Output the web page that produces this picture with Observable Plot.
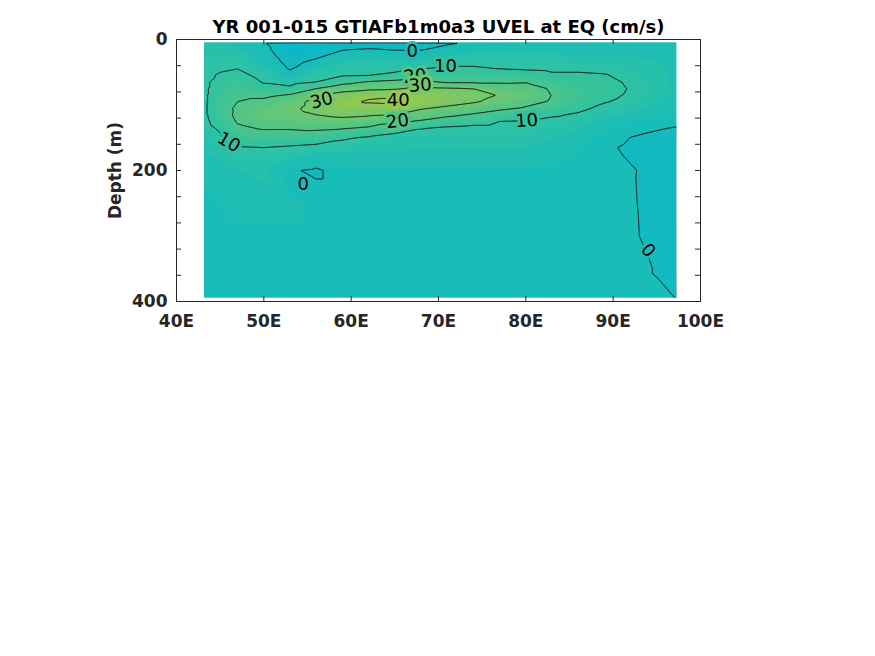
<!DOCTYPE html>
<html>
<head>
<meta charset="utf-8">
<script src="https://cdn.jsdelivr.net/npm/d3@7"></script>
<script src="https://cdn.jsdelivr.net/npm/@observablehq/plot@0.6"></script>
<style>
  html, body { margin: 0; padding: 0; background: #fff; }
  #chart svg { display: block; }
</style>
</head>
<body>
<div id="chart"></div>
<script>
// ---------- data ----------
const titleText = "YR 001-015 GTIAFb1m0a3 UVEL at EQ (cm/s)";
const yLabelText = "Depth (m)";

// grid longitudes (°E) and depths (m)
const lons = [43.2, 45, 47, 50, 53, 56, 59, 62, 65, 68, 71, 74, 77, 80, 83, 86, 89, 92, 95, 97.3];
const depths = [5, 15, 25, 35, 45, 55, 65, 75, 85, 95, 105, 115, 125, 135, 150, 165, 180, 200, 250, 300, 350, 395];

// zonal velocity (cm/s): one profile per longitude, values top -> bottom at the depths above
const uvel = [
  /* 43.2 */ [5, 6, 7, 8, 8.5, 9, 9, 9, 9, 9, 9, 9, 8.5, 8, 6, 5, 4, 3, 2, 1.5, 1, 1],
  /* 45   */ [5, 6, 7, 8.5, 9.5, 10.5, 12, 13, 14, 14.5, 15, 14, 13, 11, 9, 7, 5, 4, 2.5, 2, 1, 1],
  /* 47   */ [4, 5, 7, 9, 10, 12, 14, 16, 18, 20, 22, 22.5, 21, 18.5, 14, 9.5, 7, 5, 3, 2, 1, 1],
  /* 50   */ [0.3, 1.5, 2.5, 4, 6, 8, 9.5, 12, 18, 22, 25, 26, 24, 21, 15, 10, 8, 6, 3, 2, 1, 1],
  /* 53   */ [-4, -4, -3, -2, -0.5, 3, 7, 12, 21, 26, 28, 27, 24, 21, 15, 9, 6, 0.5, 3, 2, 1, 1],
  /* 56   */ [-5, -4, -1.5, 2, 5, 8, 10, 20, 29, 33, 33, 30, 26, 22, 14, 8, 3, -0.7, 2, 2, 1, 1],
  /* 59   */ [-4, -0.5, 3, 5, 7, 9.5, 17, 26, 34, 38, 36, 32, 27, 21, 11, 7, 4, 2, 2, 1.5, 1, 1],
  /* 62   */ [-5, 0.5, 4, 6, 8, 10, 21, 28, 38, 41, 35, 31, 25, 19, 9, 6, 4, 2, 2, 1.5, 1, 1],
  /* 65   */ [-5, -0.5, 3, 6, 8, 12, 23, 29, 38, 42, 35, 30, 22, 14, 7, 6, 4, 2, 2, 1.5, 1, 1],
  /* 68   */ [-3, -0.5, 3, 6, 10, 15, 22, 32, 38, 39, 31, 25, 19, 10.5, 7, 5, 4, 2, 2, 1.5, 1, 1],
  /* 71   */ [-1, 2, 5, 8, 11, 15, 19, 31, 35, 34, 28, 22, 15, 9, 7, 5, 4, 2, 2, 1.5, 1, 1],
  /* 74   */ [1, 3, 6, 8.5, 11, 14, 19, 30, 33, 31, 25, 19, 13, 8, 6, 5, 4, 2, 2, 1.5, 1, 1],
  /* 77   */ [2, 4, 6, 8, 10, 14, 19, 25, 29.5, 27, 22, 15, 10, 8, 6, 5, 4, 2, 2, 1.5, 1, 1],
  /* 80   */ [3, 4, 6, 8, 9.5, 13, 19.5, 24, 26, 23, 19, 13, 9.5, 8, 6, 5, 4, 2, 2, 1.5, 1, 1],
  /* 83   */ [3, 4, 6, 8, 9, 11, 15, 19, 19.8, 19, 15, 11, 8, 7, 5, 4, 3, 2, 2, 1.5, 1, 1],
  /* 86   */ [3, 4, 5, 7, 9, 11, 13, 15, 15, 14, 12, 9, 7, 5, 4, 3, 2, 2, 1.5, 1, 1, 1],
  /* 89   */ [3, 4, 5, 7, 8.5, 10.5, 12, 13, 12, 10.5, 8, 6, 4, 3, 1.5, 0.6, 1, 1, 1, 1, 1, 1],
  /* 92   */ [3, 4, 5, 6, 7, 8, 9, 9.5, 9, 8, 6, 4, 2.5, 1, -0.05, -0.6, -0.3, 0.3, 0.4, 0.5, 1, 1],
  /* 95   */ [2, 3, 4, 5, 5.5, 6, 6, 6, 5.5, 5, 4, 3, 1.5, 0.3, -0.8, -1.5, -1.5, -1, -1.2, -1, -0.2, 0.5],
  /* 97.3 */ [2, 3, 3.5, 4, 4.5, 4.5, 4.5, 4.5, 4, 3.5, 3, 2, 1, -0.2, -1.5, -2.5, -2.5, -2.5, -2.5, -2, -1.5, -0.05]
];

const lineLevels = [0, 10, 20, 30, 40];

// inline contour labels (position in lon / depth)
const contourLabels = [
  {lon: 67.0, depth: 18,  level: 0,  angle: 0},
  {lon: 70.8, depth: 41,  level: 10, angle: 0},
  {lon: 67.3, depth: 56,  level: 20, angle: -5},
  {lon: 67.9, depth: 70,  level: 30, angle: -5},
  {lon: 56.6, depth: 93,  level: 30, angle: -15},
  {lon: 65.4, depth: 93,  level: 40, angle: 0},
  {lon: 65.3, depth: 125, level: 20, angle: -7},
  {lon: 80.1, depth: 124, level: 10, angle: -4},
  {lon: 46.0, depth: 157, level: 10, angle: 30},
  {lon: 54.5, depth: 221, level: 0,  angle: 0},
  {lon: 94.0, depth: 322, level: 0,  angle: 50}
];

const xDomain = [40, 100];
const yDomain = [0, 400];
const xTicks = [40, 50, 60, 70, 80, 90, 100];
const yTicks = [0, 40, 80, 120, 160, 200, 240, 280, 320, 360, 400];
const yTickLabels = [0, 200, 400];

// ---------- layout / style ----------
const W = 875, H = 656;
const mL = 176, mR = 175, mT = 39, mB = 355;
const plotW = W - mL - mR, plotH = H - mT - mB;
const axisColor = "#262626";
const colorDomain = [-6, 0, 10, 20, 30, 40, 46];
const colorRange = ["#08b6cb", "#19bdb8", "#33c29e", "#50c586", "#74c86a", "#98c94c", "#a8ca40"];

const points = lons.flatMap((lon, i) => depths.map((depth, j) => ({lon, depth, u: uvel[i][j]})));

const lonMin = lons[0], lonMax = lons[lons.length - 1];
const depMin = depths[0], depMax = depths[depths.length - 1];
const bounds = {x1: lonMin - 0.4, x2: lonMax + 0.4, y1: depMin - 3, y2: depMax + 3};

const chart = Plot.plot({
  width: W,
  height: H,
  marginLeft: mL,
  marginRight: mR,
  marginTop: mT,
  marginBottom: mB,
  style: {fontFamily: "DejaVu Sans", fontSize: "17px", fontWeight: "bold", color: axisColor, background: "white"},
  x: {domain: xDomain},
  y: {domain: yDomain, reverse: true},
  color: {type: "linear", domain: colorDomain, range: colorRange, clamp: true},
  marks: [
    // filled contours
    Plot.contour(points, {
      x: "lon", y: "depth", fill: "u",
      interpolate: "barycentric",
      thresholds: d3.range(-10, 50, 2.5),
      pixelSize: 1,
      stroke: "none",
      ...bounds
    }),
    // contour lines
    Plot.contour(points, {
      x: "lon", y: "depth", value: "u",
      interpolate: "barycentric",
      thresholds: lineLevels,
      pixelSize: 1,
      fill: "none",
      stroke: "black",
      strokeWidth: 0.9,
      strokeLinejoin: "round",
      ...bounds
    }),
    // white outside the data area
    Plot.rect([0], {x1: xDomain[0], x2: lonMin, y1: yDomain[0], y2: yDomain[1], fill: "white"}),
    Plot.rect([0], {x1: lonMax, x2: xDomain[1], y1: yDomain[0], y2: yDomain[1], fill: "white"}),
    Plot.rect([0], {x1: xDomain[0], x2: xDomain[1], y1: yDomain[0], y2: depMin, fill: "white"}),
    Plot.rect([0], {x1: xDomain[0], x2: xDomain[1], y1: depMax, y2: yDomain[1], fill: "white"}),
    // contour labels
    Plot.text(contourLabels, {
      x: "lon", y: "depth", text: d => String(d.level), rotate: "angle",
      fontSize: 18, fontWeight: "normal", fill: "black",
      stroke: "level", strokeWidth: 6, paintOrder: "stroke"
    }),
    // frame & inward ticks
    Plot.frame({stroke: axisColor, strokeWidth: 1}),
    Plot.tickX(xTicks, {x: d => d, insetTop: plotH - 5, stroke: axisColor}),
    Plot.tickX(xTicks, {x: d => d, insetBottom: plotH - 5, stroke: axisColor}),
    Plot.tickY(yTicks, {y: d => d, insetRight: plotW - 5, stroke: axisColor}),
    Plot.tickY(yTicks, {y: d => d, insetLeft: plotW - 5, stroke: axisColor}),
    // tick labels
    Plot.axisX(xTicks, {anchor: "bottom", tickSize: 0, tickPadding: 13, tickFormat: d => d + "E", label: null}),
    Plot.axisY(yTickLabels, {anchor: "left", tickSize: 0, tickPadding: 9, label: null}),
    // axis label and title
    Plot.text([yLabelText], {text: d => d, frameAnchor: "left", textAnchor: "middle", rotate: -90, dx: -61, fontSize: 17, fontWeight: "bold", fill: axisColor}),
    Plot.text([titleText], {text: d => d, frameAnchor: "top", lineAnchor: "bottom", dy: -7, fontSize: 18, fontWeight: "bold", fill: "black"})
  ]
});

document.getElementById("chart").append(chart);
</script>
</body>
</html>
